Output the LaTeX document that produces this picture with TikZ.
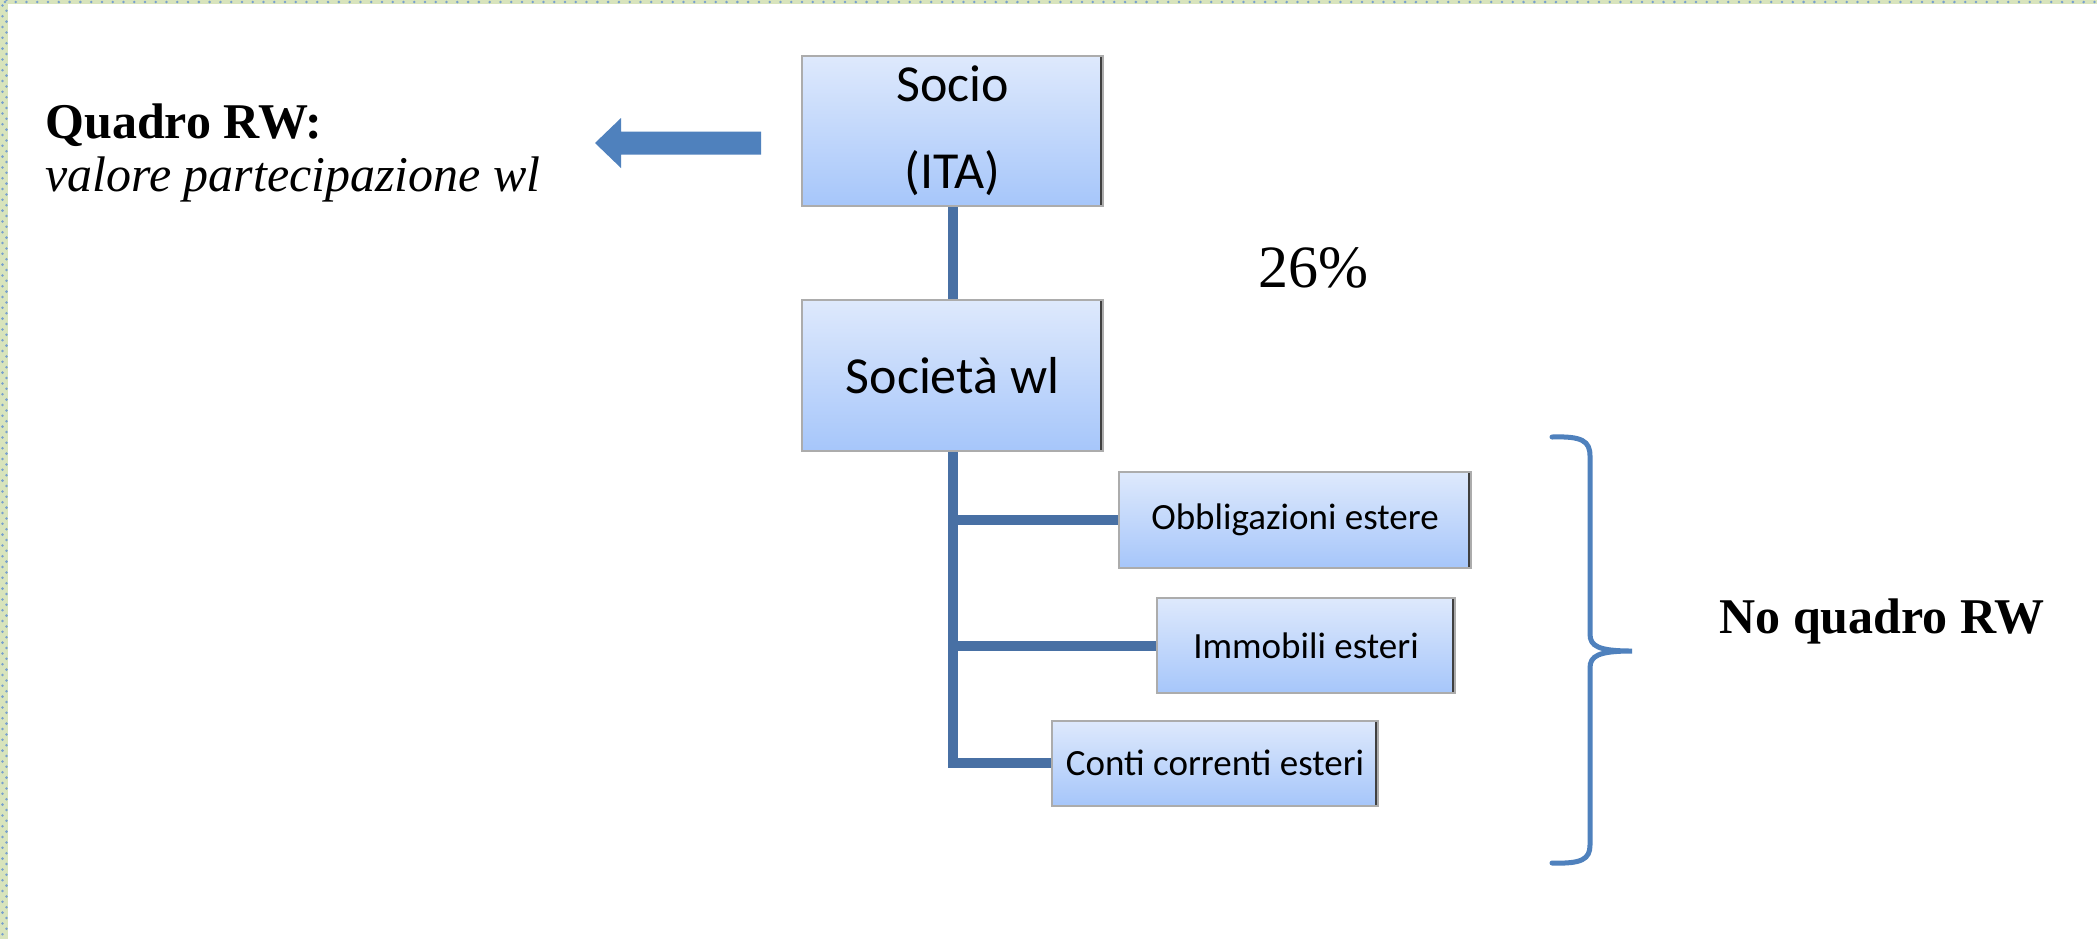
\documentclass[tikz,border=0pt]{standalone}
\usepackage{fontspec}
\setmainfont{Liberation Serif}
\newfontfamily\boxfont{Carlito}
\usepackage{tikz}
\usetikzlibrary{backgrounds}
\definecolor{boxtop}{RGB}{222,233,252}
\definecolor{boxbottom}{RGB}{166,198,250}
\definecolor{linkblue}{RGB}{72,112,164}
\definecolor{arrowblue}{RGB}{79,129,189}
\definecolor{framegreen}{RGB}{216,228,188}
\definecolor{framedot}{RGB}{120,160,205}
\tikzset{entity/.style={draw=gray!65,line width=1pt,top color=boxtop,bottom color=boxbottom,
                        text badly centered,inner sep=0pt,
                        path picture={\draw[black!75,line width=3.5pt]
                          (path picture bounding box.north east) -- (path picture bounding box.south east);}}}
\tikzset{holder/.style={entity,align=center,minimum width=150.5pt,
                        font=\boxfont\fontsize{26}{43.5}\selectfont}}
\tikzset{asset/.style={entity,font=\boxfont\fontsize{18.5}{22}\selectfont}}

\begin{document}
\begin{tikzpicture}[x=0.5pt,y=-0.5pt]
	\tikzstyle{link}=[linkblue,line width=5pt]
	\tikzstyle{remark}=[inner sep=0pt,font=\rmfamily\fontsize{25}{30}\selectfont]
    \useasboundingbox (0,0) rectangle (2097,939);

  % slide frame: green strips with small blue dots
  \fill[white] (0,0) rectangle (2097,939);
  \fill[framegreen] (0,0) rectangle (2097,4);
  \fill[framegreen] (0,0) rectangle (8,939);
  \foreach \i in {0,...,194}
    \fill[framedot] (5+10.77*\i,2) circle (0.7pt);
  \foreach \j in {0,...,86} {
    \fill[framedot] (2.5,5.4+10.8*\j) circle (0.7pt);
    \fill[framedot] (6.5,10.8*\j) circle (0.7pt);
  }

  % The chain of ownership
  \node[holder,minimum height=75pt]   (socio)   at (952.5,131)   {Socio\\(ITA)};
  \node[holder,minimum height=75.5pt] (societa) at (952.5,375.5) {Società wl};

  % assets held abroad by the company
  \node[asset,minimum width=176pt,minimum height=48pt]   (obblig) at (1295,520)   {Obbligazioni estere};
  \node[asset,minimum width=149pt,minimum height=47.5pt] (immob)  at (1306,645.5) {Immobili esteri};
  \node[asset,minimum width=163pt,minimum height=42.5pt] (conti)  at (1215,763)   {Conti correnti esteri};

  % Texts round the chart
  \node[remark,font=\rmfamily\fontsize{30}{36}\selectfont] (quota) at (1313,268) {26\%};
  \node[remark,anchor=base west,font=\rmfamily\bfseries\fontsize{25}{30}\selectfont] (rwtitle) at (45,138) {Quadro RW:};
  \node[remark,anchor=base west,font=\rmfamily\itshape\fontsize{25}{30}\selectfont]  (rwnote)  at (45,191) {valore partecipazione wl};
  \node[remark,anchor=base west,font=\rmfamily\bfseries\fontsize{25}{30}\selectfont] (norw)    at (1719,633) {No quadro RW};

  % The boxes are now joined by the thick lines:
  \draw[link] (socio) -- (societa);
  \draw[link] (societa) |- (obblig);
  \draw[link] (societa) |- (immob);
  \draw[link] (societa) |- (conti);

  % block arrow towards the RW note
  \coordinate (rwtip) at (595,143);
  \fill[arrowblue] (rwtip) -- (621,118) -- (621,131.5) -- (761,131.5)
    -- (761,154.5) -- (621,154.5) -- (621,168) -- cycle;

  % curly brace grouping the foreign assets
  \coordinate (bracetop) at (1552,437);
  \coordinate (bracemid) at (1632,651);
  \coordinate (bracebot) at (1552,863);
  \draw[arrowblue,line width=2.5pt,line cap=round]
    (bracetop) .. controls (1582,436) and (1590,441) .. (1590,456)
    -- (1590,634) .. controls (1590,646) and (1598,651) .. (bracemid)
    .. controls (1598,651) and (1590,656) .. (1590,668)
    -- (1590,845) .. controls (1590,859) and (1582,864) .. (bracebot);
\end{tikzpicture}
\end{document}
